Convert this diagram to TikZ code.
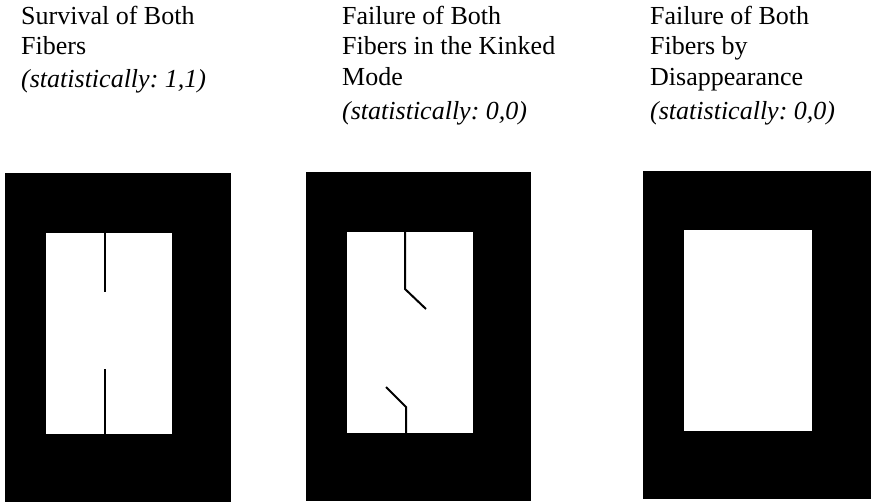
\documentclass[tikz,border=0pt]{standalone}
\usepackage{fontspec}
\setmainfont{Liberation Serif}
\frenchspacing
\begin{document}
\begin{tikzpicture}[x=1pt,y=-1pt,
  frame/.style={fill=black},
  window/.style={fill=white},
  fiber/.style={draw=black,line width=2pt,line cap=butt,line join=miter},
  caption/.style={anchor=base west,inner sep=0pt,font=\fontsize{26}{30}\selectfont},
  stat/.style={caption,font=\fontsize{26}{30}\selectfont\itshape}]
\useasboundingbox[fill=white] (0,0) rectangle (872,503);
% panel 1
\fill[frame] (5,173) rectangle (231,502);
\fill[window] (46,233) rectangle (172,434);
\draw[fiber] (105,233) -- (105,292);
\draw[fiber] (105,369) -- (105,434);
% panel 2
\fill[frame] (306,172) rectangle (531,501);
\fill[window] (347,232) rectangle (473,433);
\draw[fiber] (405,232) -- (405,289) -- (426,309);
\draw[fiber] (386,387) -- (406,407) -- (406,433);
% panel 3
\fill[frame] (643,171) rectangle (871,499);
\fill[window] (684,230) rectangle (812,431);
% captions
\node[caption] (a1) at (21,25) {Survival of Both};
\node[caption] (a2) at (21,55) {Fibers};
\node[stat] (a3) at (21,88) {(statistically: 1,1)};
\node[caption] (b1) at (342,25) {Failure of Both};
\node[caption] (b2) at (342,55) {Fibers in the Kinked};
\node[caption] (b3) at (342,85) {Mode};
\node[stat] (b4) at (342,119) {(statistically: 0,0)};
\node[caption] (c1) at (650,25) {Failure of Both};
\node[caption] (c2) at (650,55) {Fibers by};
\node[caption] (c3) at (650,85) {Disappearance};
\node[stat] (c4) at (650,119) {(statistically: 0,0)};
\end{tikzpicture}
\end{document}
